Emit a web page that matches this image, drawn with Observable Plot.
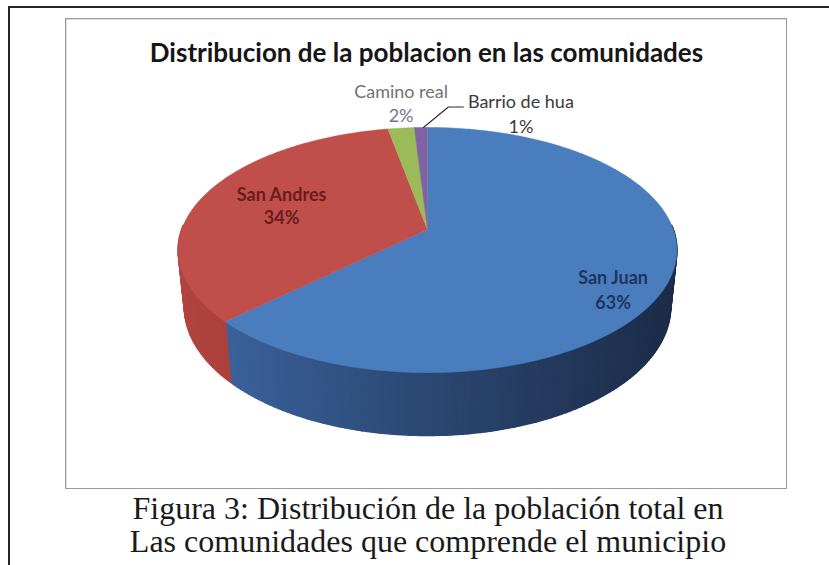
<!DOCTYPE html>
<html>
<head>
<meta charset="utf-8">
<script src="https://cdn.jsdelivr.net/npm/d3@7"></script>
<script src="https://cdn.jsdelivr.net/npm/@observablehq/plot@0.6"></script>
<style>
  html, body { margin: 0; padding: 0; background: #fff; }
  #page { position: relative; width: 829px; height: 565px; overflow: hidden; background: #fff; }
  #outer { position: absolute; left: 8px; top: 6px; width: 900px; height: 700px;
           border-top: 2px solid #262626; border-left: 2px solid #262626; }
  #box { position: absolute; left: 65px; top: 18px; width: 720px; height: 469px;
         border: 1px solid #9c9c9c; box-shadow: inset 1px 1px 0 #dcdcdc; background: #fff; }
  #title { position: absolute; left: 66px; width: 721px; top: 39px; text-align: center;
           font-family: Lato, "Open Sans", sans-serif; font-weight: bold; font-size: 26px;
           line-height: 26px; color: #161616; white-space: nowrap; }
  #chart { position: absolute; left: 0; top: 0; }
  #caption { position: absolute; left: 0; width: 856px; top: 492px; text-align: center;
             font-family: "Liberation Serif", "Times New Roman", serif; font-size: 32px;
             line-height: 33px; color: #1a1a1a; white-space: nowrap; }
</style>
</head>
<body>
<div id="page">
  <div id="outer"></div>
  <div id="box"></div>
  <div id="title"></div>
  <div id="chart"></div>
  <div id="caption"></div>
</div>
<script>
// ---- data ----
const titleText = "Distribucion de la poblacion en las comunidades";
const captionLines = ["Figura 3: Distribución de la población total en", "Las comunidades que comprende el municipio"];
const communities = ["San Juan", "San Andres", "Camino real", "Barrio de hua"];
const shares = [63, 34, 2, 1];
const shareLabels = ["63%", "34%", "2%", "1%"];

// ---- palette ----
const topColors = ["#4a7dbd", "#c04f4c", "#9bbb59", "#8064a2"];
const sideLight = ["#3f6aa8", "#b3443f", "#86a34a", "#6c5390"];
const sideDark  = ["#1c2c48", "#7c2a27", "#5c7330", "#4a3866"];
const nameColors = ["#1d355f", "#6a1d1b", "#727272", "#3a3a3a"];
const pctColors  = ["#1d355f", "#6a1d1b", "#7a6e98", "#3a3a3a"];

document.getElementById("title").textContent = titleText;
document.getElementById("caption").innerHTML = captionLines.map(s => `<div>${s}</div>`).join("");

// ---- 3D projection of the pie (Excel style, 29° tilt with perspective) ----
const S = 1283, D = 5.22, alpha = 29 * Math.PI / 180, depth = 0.267;
function project(thetaDeg, r, Y) {
  const t = thetaDeg * Math.PI / 180;
  const X = r * Math.sin(t), Z = -r * Math.cos(t);
  const d = D - (Y * Math.sin(alpha) + Z * Math.cos(alpha));
  const u = Y * Math.cos(alpha) - Z * Math.sin(alpha);
  return {x: S * X / d, y: S * u / d};
}
const deg = a => a * 180 / Math.PI;

const arcs = d3.pie().sort(null).value(d => d)(shares);

// top faces
const topPts = [];
arcs.forEach((a, i) => {
  const a0 = deg(a.startAngle), a1 = deg(a.endAngle);
  const n = Math.max(2, Math.ceil((a1 - a0) / 0.8));
  topPts.push({id: "t" + i, ...project(0, 0, 0), fill: topColors[i]});
  for (let k = 0; k <= n; k++) {
    topPts.push({id: "t" + i, ...project(a0 + (a1 - a0) * k / n, 1, 0), fill: topColors[i]});
  }
});

// side walls (front half), shaded left->right
const sidePts = [];
const xL = project(260, 1, 0).x, xR = project(100, 1, 0).x;
let sid = 0;
arcs.forEach((a, i) => {
  const a0 = Math.max(88, deg(a.startAngle)), a1 = Math.min(272, deg(a.endAngle));
  if (a1 <= a0) return;
  const n = Math.max(1, Math.ceil((a1 - a0) / 1.2));
  for (let k = 0; k < n; k++) {
    const t0 = a0 + (a1 - a0) * k / n, t1 = a0 + (a1 - a0) * (k + 1) / n;
    const p1 = project(t0, 1, 0), p2 = project(t1, 1, 0), p3 = project(t1, 1, -depth), p4 = project(t0, 1, -depth);
    const xm = (p1.x + p2.x) / 2;
    const tt = Math.max(0, Math.min(1, (xm - xL) / (xR - xL)));
    const col = d3.interpolateRgb(sideLight[i], sideDark[i])(Math.pow(tt, 0.85));
    const id = "s" + (sid++);
    [p1, p2, p3, p4].forEach(p => sidePts.push({id, ...p, fill: col}));
  }
});

// labels (anchored on slice mid-angle, offsets are layout)
const layout = [
  {r: 0.78, dx: 0,   dy: 22,  gap: 25},
  {r: 0.645, dx: 0,  dy: 0,   gap: 23},
  {r: 1.0, dx: 0,    dy: -24, gap: 24},
  {r: 1.0, dx: 100,  dy: -13, gap: 25}
];
const labelPts = [];
arcs.forEach((a, i) => {
  const mid = deg((a.startAngle + a.endAngle) / 2);
  const p = project(mid, layout[i].r, 0);
  const cx = p.x + layout[i].dx, cy = p.y - layout[i].dy;
  const g = layout[i].gap / 2;
  labelPts.push({x: cx, y: cy + g, text: communities[i], fill: nameColors[i], inside: i < 2});
  labelPts.push({x: cx, y: cy - g, text: shareLabels[i], fill: pctColors[i], inside: i < 2});
});

// leader line for the smallest slice
const last = arcs[arcs.length - 1];
const rim = project(deg((last.startAngle + last.endAngle) / 2), 1, 0);
const leader = [
  {x: rim.x + 2.5, y: rim.y},
  {x: rim.x + 27.5, y: rim.y + 20.5},
  {x: rim.x + 42.5, y: rim.y + 20.5}
];

const labelFont = "Lato, 'Open Sans', sans-serif";
const chart = Plot.plot({
  width: 829, height: 565,
  margin: 0,
  style: {background: "transparent", overflow: "visible"},
  x: {domain: [-427, 402], range: [0, 829], axis: null},
  y: {domain: [-336, 229], range: [565, 0], axis: null},
  color: {type: "identity"},
  marks: [
    Plot.line(sidePts, {x: "x", y: "y", z: "id", fill: "fill", stroke: "fill", strokeWidth: 1.6, curve: "linear-closed"}),
    Plot.line(topPts, {x: "x", y: "y", z: "id", fill: "fill", stroke: "fill", strokeWidth: 0.5, curve: "linear-closed"}),
    Plot.line(leader, {x: "x", y: "y", stroke: "#2a2a2a", strokeWidth: 1.1}),
    Plot.text(labelPts.filter(d => d.inside), {x: "x", y: "y", text: "text", fill: "fill", fontFamily: labelFont, fontSize: 18, fontWeight: "bold"}),
    Plot.text(labelPts.filter(d => !d.inside), {x: "x", y: "y", text: "text", fill: "fill", fontFamily: labelFont, fontSize: 18})
  ]
});
document.getElementById("chart").appendChild(chart);
</script>
</body>
</html>
